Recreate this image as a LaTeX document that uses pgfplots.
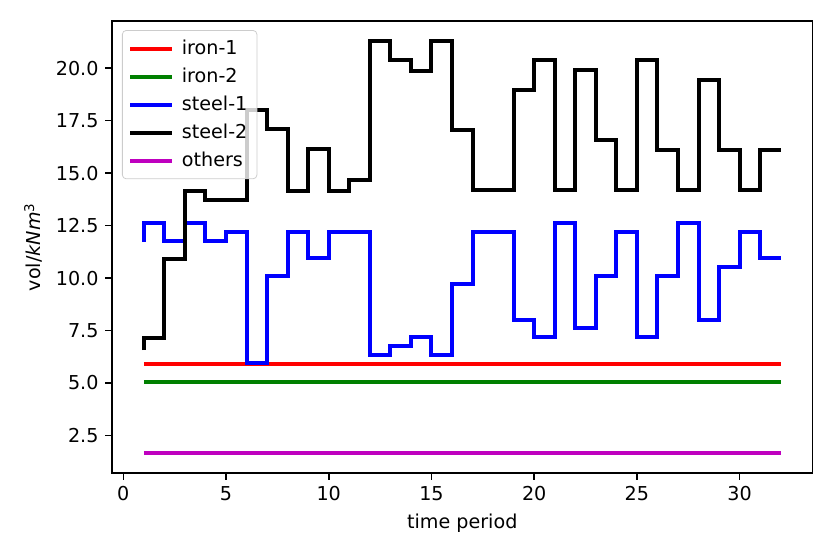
\documentclass[border=0pt]{standalone}
\usepackage{fontspec}
\setmainfont{DejaVu Sans}
\usepackage{pgfplots}
\pgfplotsset{compat=1.18}
\definecolor{mplgreen}{rgb}{0,0.5,0}
\definecolor{mplmag}{rgb}{0.75,0,0.75}
\begin{document}
\begin{tikzpicture}
\begin{axis}[
  scale only axis, width=366pt, height=236pt,
  at={(0,0)}, anchor=south west,
  xmin=-0.55, xmax=33.55, ymin=0.72, ymax=22.25,
  xtick={0,5,...,30}, ytick={2.5,5,...,20},
  y tick label style={/pgf/number format/.cd, fixed, fixed zerofill, precision=1},
  /pgf/number format/assume math mode=true,
  tick align=outside, tick pos=left,
  major tick length=3.5pt,
  every tick/.style={black, line width=0.8pt},
  axis line style={line width=0.8pt},
  xlabel={time period}, ylabel={vol/\textit{kNm}\textsuperscript{3}},
  label style={font=\fontsize{10}{12}\selectfont},
  tick label style={font=\fontsize{10}{12}\selectfont},
  legend cell align=left,
  legend style={at={(0.0143,0.98)}, anchor=north west, draw=black!20, rounded corners=2pt,
    fill=white, fill opacity=0.8, text opacity=1, font=\fontsize{10}{12}\selectfont,
    row sep=1.5pt, column sep=2pt, inner sep=3pt},
  legend image code/.code={\draw[#1, line width=2.1pt] (0pt,0pt) -- (22pt,0pt);},
  const plot mark right,
  every axis plot/.append style={line width=2.1pt, no marks},
]
\addplot[red] coordinates {(1,5.9) (32,5.9)};
\addlegendentry{iron-1}
\addplot[mplgreen] coordinates {(1,5.05) (32,5.05)};
\addlegendentry{iron-2}
\addplot[blue] coordinates {
(1,11.74) (2,12.62) (3,11.78) (4,12.62) (5,11.78) (6,12.22) (7,5.94) (8,10.1)
(9,12.22) (10,10.95) (11,12.22) (12,12.22) (13,6.34) (14,6.78) (15,7.21) (16,6.34)
(17,9.7) (18,12.22) (19,12.22) (20,8.0) (21,7.18) (22,12.62) (23,7.6) (24,10.1)
(25,12.22) (26,7.18) (27,10.1) (28,12.62) (29,8.0) (30,10.55) (31,12.22) (32,10.95)};
\addlegendentry{steel-1}
\addplot[black] coordinates {
(1,6.57) (2,7.13) (3,10.9) (4,14.17) (5,13.73) (6,13.73) (7,18.02) (8,17.1)
(9,14.17) (10,16.14) (11,14.17) (12,14.69) (13,21.3) (14,20.38) (15,19.89) (16,21.3)
(17,17.07) (18,14.2) (19,14.2) (20,18.98) (21,20.38) (22,14.2) (23,19.9) (24,16.56)
(25,14.2) (26,20.38) (27,16.11) (28,14.2) (29,19.45) (30,16.11) (31,14.2) (32,16.11)};
\addlegendentry{steel-2}
\addplot[mplmag] coordinates {(1,1.67) (32,1.67)};
\addlegendentry{others}
\end{axis}
\pgfresetboundingbox
\path[use as bounding box] (-58.5pt,-42.3pt) rectangle (375.1pt,247pt);
\end{tikzpicture}
\end{document}
